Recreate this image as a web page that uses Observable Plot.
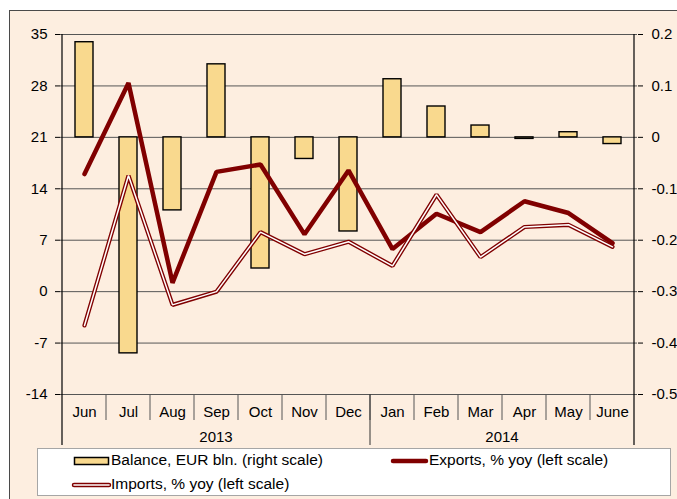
<!DOCTYPE html>
<html>
<head>
<meta charset="utf-8">
<script src="https://cdn.jsdelivr.net/npm/d3@7"></script>
<script src="https://cdn.jsdelivr.net/npm/@observablehq/plot@0.6"></script>
<style>
  html, body { margin: 0; padding: 0; background: #fff; }
  #wrap { position: relative; width: 677px; height: 499px; overflow: hidden; font-family: "Liberation Sans", Arial, sans-serif; }
  #bg { position: absolute; left: 9px; top: 10px; right: -2px; bottom: -2px; background: #FDEEE0; border-top: 1px solid #4a4a4a; border-left: 1px solid #4a4a4a; }
  #chart { position: absolute; left: 0; top: 0; }
  #legend { position: absolute; left: 37px; top: 448px; width: 634px; height: 48px; background: #fff; border: 1px solid #a6a6a6; box-sizing: border-box; }
  #legend .t { position: absolute; font-size: 15.5px; line-height: 16px; color: #000; white-space: nowrap; }
</style>
</head>
<body>
<div id="wrap">
  <div id="bg"></div>
  <div id="chart"></div>
  <div id="legend">
    <svg width="634" height="48" style="position:absolute;left:0;top:0">
      <rect x="36.5" y="8.5" width="34" height="7" fill="#F9D98E" stroke="#000" stroke-width="1.5"></rect>
      <line x1="355" x2="388" y1="12" y2="12" stroke="#800000" stroke-width="4.5" stroke-linecap="round"></line>
      <line x1="36" x2="71" y1="36" y2="36" stroke="#800000" stroke-width="4.5" stroke-linecap="round"></line>
      <line x1="36" x2="71" y1="36" y2="36" stroke="#fff" stroke-width="1.6" stroke-linecap="round"></line>
    </svg>
    <div class="t" style="left:73px;top:3px">Balance, EUR bln. (right scale)</div>
    <div class="t" style="left:391px;top:3px">Exports, % yoy (left scale)</div>
    <div class="t" style="left:73px;top:27px">Imports, % yoy (left scale)</div>
  </div>
</div>
<script>
const months = ["Jun","Jul","Aug","Sep","Oct","Nov","Dec","Jan","Feb","Mar","Apr","May","June"];
const balance = [0.185,-0.42,-0.142,0.142,-0.255,-0.042,-0.183,0.113,0.06,0.023,-0.003,0.01,-0.013];
const exportsYoy = [16.0,28.4,1.2,16.3,17.3,7.8,16.5,5.8,10.6,8.1,12.3,10.7,6.6];
const importsYoy = [-4.6,15.8,-1.8,0.0,8.1,5.1,6.8,3.5,13.2,4.7,8.8,9.1,6.1];
const leftTicks = [35,28,21,14,7,0,-7,-14];
const leftLabels = ["35","28","21","14","7","0","-7","-14"];
const rightLabels = ["0.2","0.1","0","-0.1","-0.2","-0.3","-0.4","-0.5"];
const years = ["2013","2014"];
const yearFirst = ["Jun","Jan"];
const yearLast = ["Dec","June"];

// right scale (balance) mapped onto left scale: 0 -> 21, 0.1 -> 7 units
const toLeft = b => 21 + b * 70;

const data = months.map((m, i) => ({
  month: m,
  bal: balance[i],
  exp: exportsYoy[i],
  imp: importsYoy[i]
}));

const FONT = 15;

function decor(index, scales, values, dimensions) {
  const x = scales.x, y = scales.y;
  const step = x.step(), bw = x.bandwidth();
  const half = (step - bw) / 2;
  const left = m => x(m) - half;
  const right = m => x(m) + bw + half;
  const yb = y(-14), yt = y(35);
  const yEnd = yb + 51;
  const g = d3.create("svg:g").attr("fill", "none");
  months.forEach((m, i) => {
    if (i === 0) return;
    g.append("line").attr("x1", left(m)).attr("x2", left(m))
      .attr("y1", yb).attr("y2", yb + 26).attr("stroke", "#555");
  });
  const xl = left(months[0]), xr = right(months[months.length - 1]);
  [xl, xr].forEach(xx => {
    g.append("line").attr("x1", xx).attr("x2", xx).attr("y1", yt).attr("y2", yEnd)
      .attr("stroke", "#000").attr("stroke-width", 1.2);
  });
  years.forEach((yr, i) => {
    const a = left(yearFirst[i]), b = right(yearLast[i]);
    if (i > 0) g.append("line").attr("x1", a).attr("x2", a).attr("y1", yb).attr("y2", yEnd).attr("stroke", "#333");
    g.append("text").attr("x", (a + b) / 2).attr("y", yb + 43)
      .attr("text-anchor", "middle").attr("fill", "#000")
      .attr("font-size", FONT).attr("dy", "0.35em").text(yr);
  });
  return g.node();
}

const plot = Plot.plot({
  width: 677,
  height: 499,
  marginLeft: 60,
  marginRight: 40,
  marginTop: 34,
  marginBottom: 105,
  style: { background: "transparent", color: "#000", fontFamily: "'Liberation Sans', Arial, sans-serif", fontSize: FONT + "px" },
  x: { domain: months, paddingInner: 0.59, paddingOuter: 0.295, label: null },
  y: { domain: [-14, 35], label: null },
  marks: [
    Plot.ruleY(leftTicks, { stroke: "#555", strokeWidth: 1 }),
    Plot.barY(data, { x: "month", y1: () => 21, y2: d => toLeft(d.bal), fill: "#F9D98E", stroke: "#000", strokeWidth: 1.4 }),
    Plot.line(data, { x: "month", y: "exp", stroke: "#800000", strokeWidth: 4.5, strokeLinejoin: "miter", strokeLinecap: "round" }),
    Plot.line(data, { x: "month", y: "imp", stroke: "#800000", strokeWidth: 4.2, strokeLinejoin: "miter", strokeLinecap: "round" }),
    Plot.line(data, { x: "month", y: "imp", stroke: "#fff", strokeWidth: 1.5, strokeLinejoin: "miter", strokeLinecap: "round" }),
    Plot.axisY({ anchor: "left", ticks: leftTicks, tickSize: 5, tickPadding: 8, fontSize: FONT, label: null,
      tickFormat: d => leftLabels[leftTicks.indexOf(d)] }),
    Plot.axisY({ anchor: "right", ticks: leftTicks, tickSize: 5, tickPadding: 9, fontSize: FONT, label: null,
      tickFormat: d => rightLabels[leftTicks.indexOf(d)] }),
    Plot.axisX({ anchor: "bottom", tickSize: 0, tickPadding: 12, fontSize: FONT, label: null }),
    decor
  ]
});
document.getElementById("chart").appendChild(plot);
</script>
</body>
</html>
